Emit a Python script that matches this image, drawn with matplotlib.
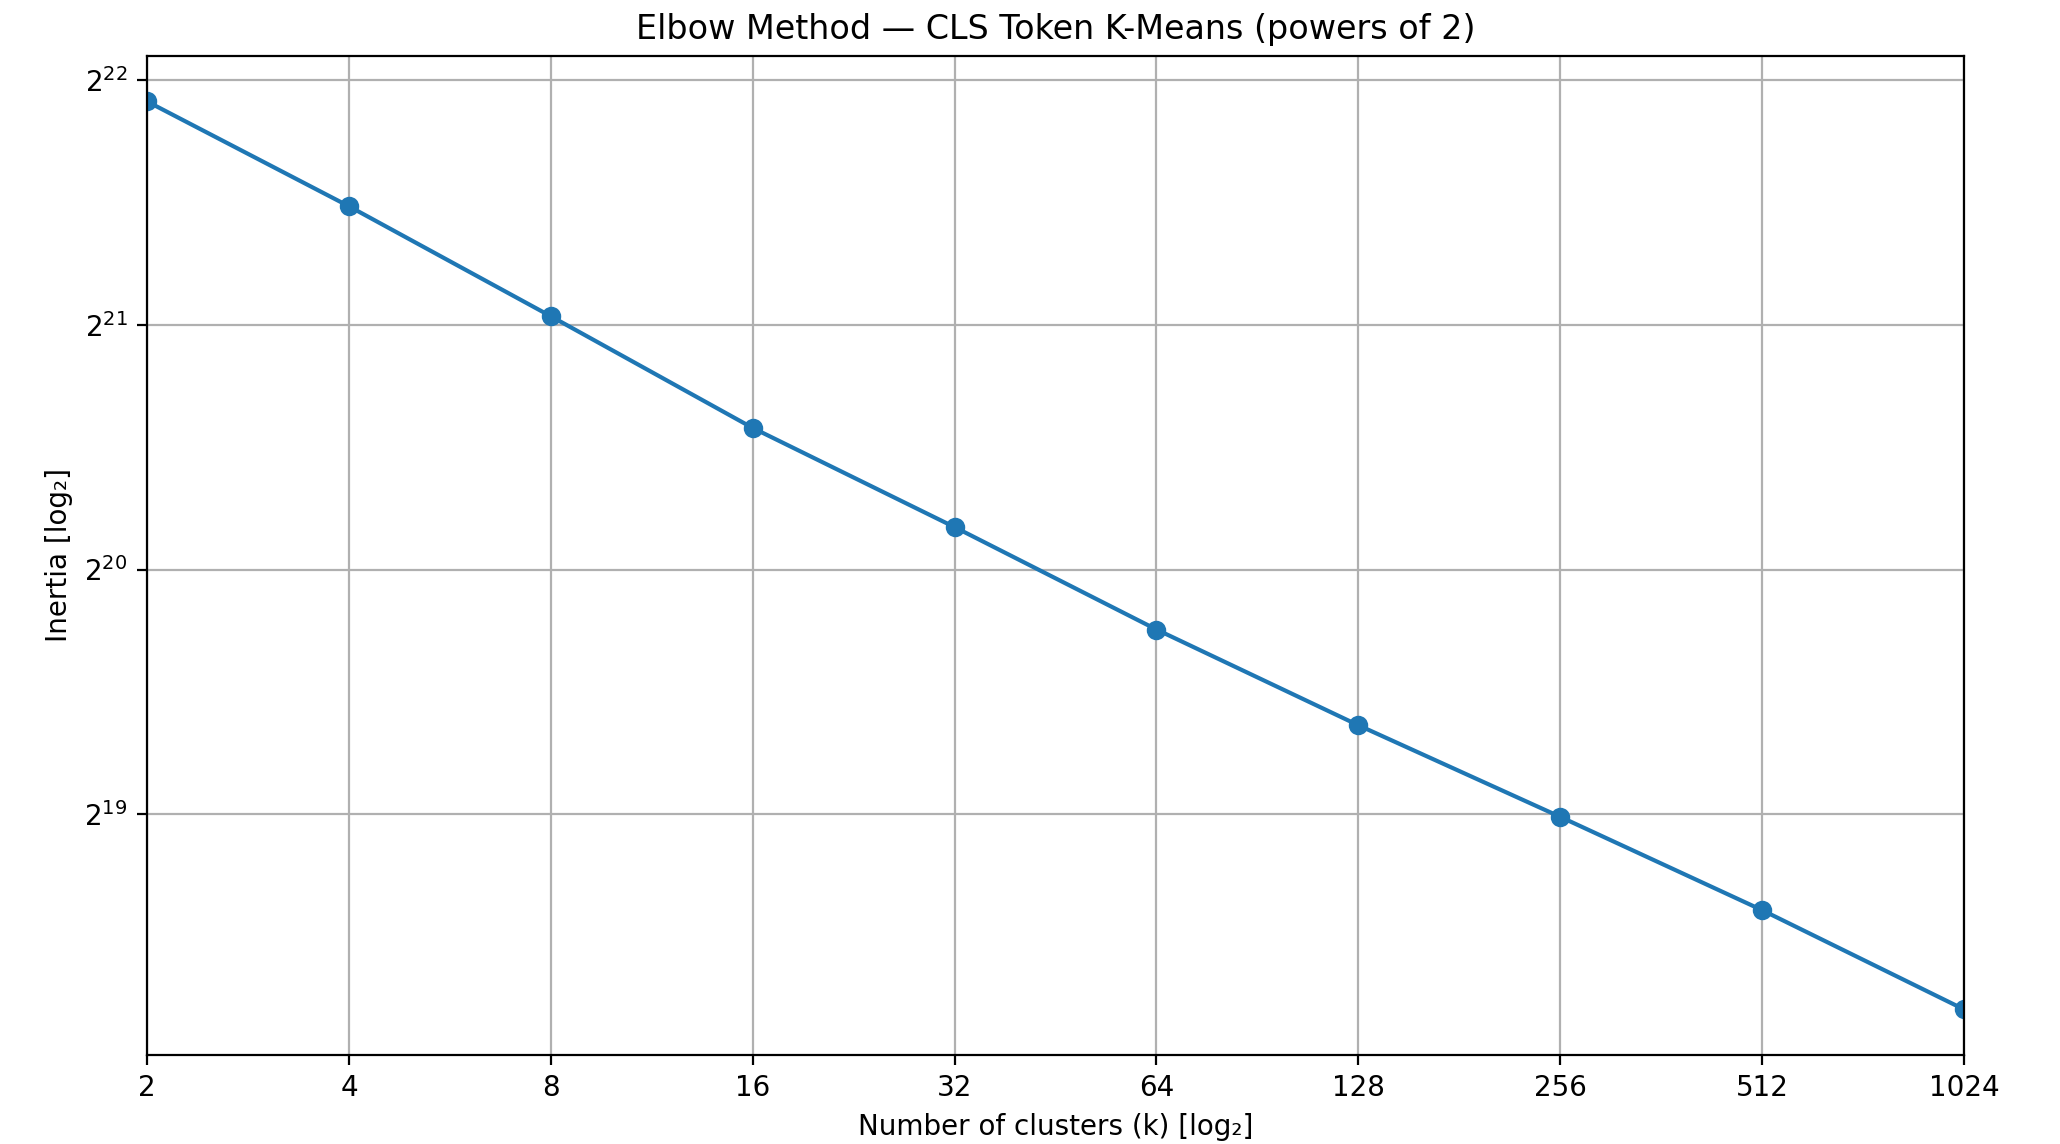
import matplotlib
matplotlib.use("Agg")
import matplotlib.pyplot as plt

# k-means runs over powers of two
ks = [2, 4, 8, 16, 32, 64, 128, 256, 512, 1024]
inertia = [3943700, 2931200, 2147200, 1565300, 1182200,
           884800, 674800, 520700, 399850, 301960]

fig, ax = plt.subplots(figsize=(10.3, 5.72), dpi=200)
fig.subplots_adjust(left=0.0714, right=0.9534, bottom=0.078, top=0.951)

ax.plot(ks, inertia, marker="o")
ax.set_xscale("log", base=2)
ax.set_yscale("log", base=2)
ax.set_xticks(ks, labels=[str(k) for k in ks])
ax.set_xlim(ks[0], ks[-1])

ax.set_title("Elbow Method \u2014 CLS Token K-Means (powers of 2)")
ax.set_xlabel("Number of clusters (k) [log\u2082]")
ax.set_ylabel("Inertia [log\u2082]")
ax.grid(True)

fig.savefig("out.png", dpi=200)
